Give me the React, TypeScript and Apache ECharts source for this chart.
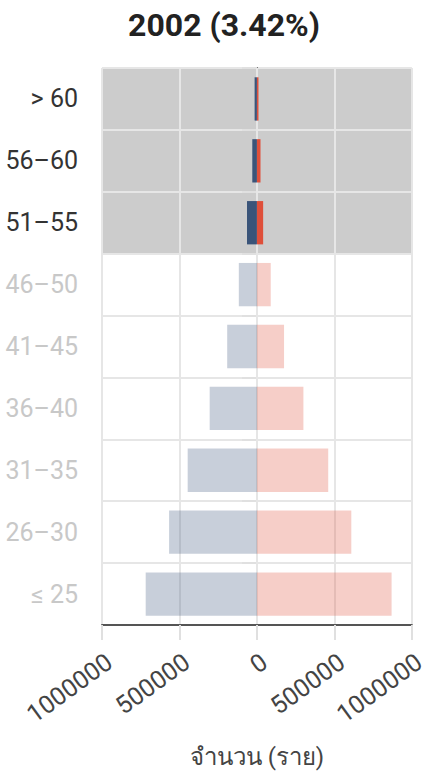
import React, { useEffect, useRef } from "react";
import * as echarts from "echarts";

const title = "2002 (3.42%)";
const categories = ["≤ 25", "26–30", "31–35", "36–40", "41–45", "46–50", "51–55", "56–60", "> 60"];
const highlighted = [false, false, false, false, false, false, true, true, true];
const maleValues = [718000, 567000, 447000, 305000, 192000, 117000, 64000, 30000, 15000];
const femaleValues = [869000, 609000, 460000, 300000, 175000, 89000, 40000, 23000, 10000];
const xTicks = [-1000000, -500000, 0, 500000, 1000000];
const axisName = "จำนวน (ราย)";

const FONT = "Roboto, 'Noto Sans', sans-serif";

export default function App() {
  const ref = useRef<HTMLDivElement>(null);
  useEffect(() => {
    if (!ref.current) return;
    const chart = echarts.init(ref.current, undefined, { renderer: "svg" });
    const fadedOpacity = 0.28;
    chart.setOption({
      animation: false,
      title: {
        text: title,
        left: 219,
        textAlign: "center",
        top: 4,
        textStyle: { fontFamily: FONT, fontSize: 32, fontWeight: "bold", color: "#222" },
      },
      grid: { left: 102, right: 14, top: 68, bottom: 153, containLabel: false },
      xAxis: {
        type: "value",
        min: xTicks[0],
        max: xTicks[xTicks.length - 1],
        interval: 500000,
        z: 1,
        name: axisName,
        nameLocation: "middle",
        nameGap: 120,
        nameTextStyle: { fontFamily: FONT, fontSize: 24, color: "#444" },
        axisLine: { show: true, onZero: false, lineStyle: { color: "#555", width: 2 } },
        axisTick: { show: true, length: 15, lineStyle: { color: "#e0e0e0", width: 2 } },
        axisLabel: {
          rotate: 36,
          margin: 24,
          align: "right",
          verticalAlign: "top",
          fontFamily: FONT,
          fontSize: 25,
          color: "#444",
          formatter: (v: number) => String(Math.abs(v)),
        },
        splitLine: { show: true, lineStyle: { color: "#e6e6e6", width: 2 } },
      },
      yAxis: {
        type: "category",
        data: categories.map((c, i) => ({
          value: c,
          textStyle: { color: highlighted[i] ? "#333" : "#c8c8c8" },
        })),
        axisLine: { show: true, lineStyle: { color: "#555", width: 2 } },
        axisTick: { show: true, length: 15, lineStyle: { color: "#e0e0e0", width: 2 } },
        axisLabel: { margin: 24, fontFamily: FONT, fontSize: 25 },
        splitLine: { show: true, lineStyle: { color: "#e6e6e6", width: 2 } },
        splitArea: {
          show: true,
          areaStyle: {
            color: categories.map((_, i) => (highlighted[i] ? "#cccccc" : "rgba(255,255,255,0)")),
          },
        },
      },
      series: [
        {
          name: "male",
          type: "bar",
          stack: "total",
          barWidth: "70%",
          data: maleValues.map((v, i) => ({
            value: -v,
            itemStyle: { color: "#3a5479", opacity: highlighted[i] ? 1 : fadedOpacity },
          })),
        },
        {
          name: "female",
          type: "bar",
          stack: "total",
          barWidth: "70%",
          data: femaleValues.map((v, i) => ({
            value: v,
            itemStyle: { color: "#df4f3a", opacity: highlighted[i] ? 1 : fadedOpacity },
          })),
        },
      ],
    });
    return () => chart.dispose();
  }, []);
  return (
    <div
      ref={ref}
      style={{ position: "absolute", left: 0, top: 0, width: 429, height: 778 }}
    />
  );
}
